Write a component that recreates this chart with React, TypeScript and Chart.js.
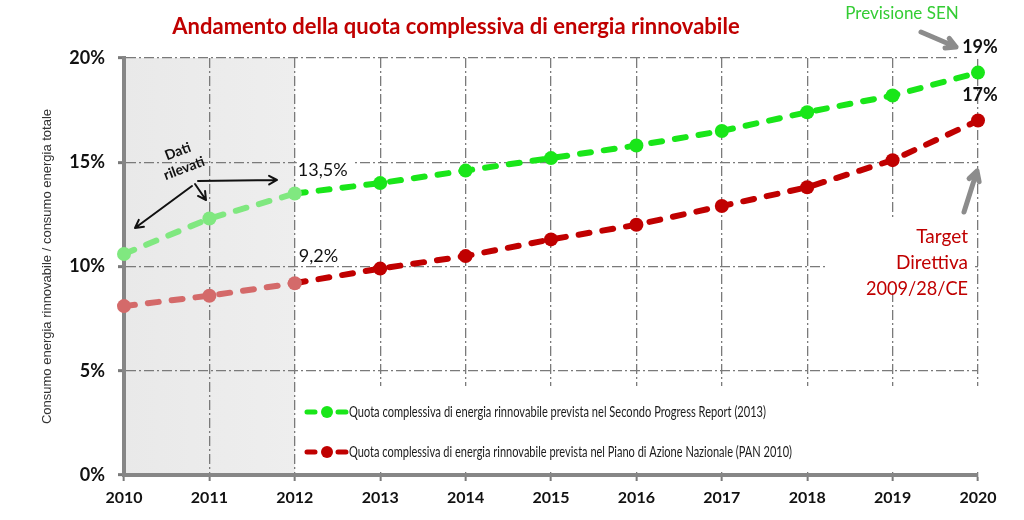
import React, { useEffect, useRef } from 'react';
import { Chart, registerables } from 'chart.js';

Chart.register(...registerables);

const years = ['2010', '2011', '2012', '2013', '2014', '2015', '2016', '2017', '2018', '2019', '2020'];
const senValues = [10.6, 12.3, 13.5, 14.0, 14.6, 15.2, 15.8, 16.5, 17.4, 18.2, 19.3];
const panValues = [8.1, 8.6, 9.2, 9.9, 10.5, 11.3, 12.0, 12.9, 13.8, 15.1, 17.0];
const observedUntil = 2; // index of last "dati rilevati" year
const titleText = 'Andamento della quota complessiva di energia rinnovabile';
const yAxisTitle = 'Consumo energia rinnovabile / consumo energia totale';
const legendLabels = [
  'Quota complessiva di energia rinnovabile prevista nel Secondo Progress Report (2013)',
  'Quota complessiva di energia rinnovabile prevista nel Piano di Azione Nazionale (PAN 2010)',
];
const senNote = 'Previsione SEN';
const senEndLabel = '19%';
const panEndLabel = '17%';
const sen2012Label = '13,5%';
const pan2012Label = '9,2%';
const targetLines = ['Target', 'Direttiva', '2009/28/CE'];
const observedLines = ['Dati', 'rilevati'];

const GREEN = '#19e619';
const GREEN_LIGHT = '#80e880';
const RED = '#c00000';
const RED_LIGHT = '#d46a6a';
const GRID = '#7a7a7a';
const FONT = 'Lato, "Open Sans", sans-serif';

function arrow(ctx: CanvasRenderingContext2D, x1: number, y1: number, x2: number, y2: number, color: string, width: number, head: number) {
  const a = Math.atan2(y2 - y1, x2 - x1);
  ctx.save();
  ctx.strokeStyle = color;
  ctx.lineWidth = width;
  ctx.lineCap = 'round';
  ctx.lineJoin = 'round';
  ctx.beginPath();
  ctx.moveTo(x1, y1);
  ctx.lineTo(x2, y2);
  ctx.moveTo(x2 - head * Math.cos(a - 0.5), y2 - head * Math.sin(a - 0.5));
  ctx.lineTo(x2, y2);
  ctx.lineTo(x2 - head * Math.cos(a + 0.5), y2 - head * Math.sin(a + 0.5));
  ctx.stroke();
  ctx.restore();
}

function text(ctx: CanvasRenderingContext2D, s: string, x: number, y: number, font: string, color: string, align: CanvasTextAlign, maxWidth?: number) {
  ctx.save();
  ctx.font = font;
  ctx.fillStyle = color;
  ctx.textAlign = align;
  ctx.textBaseline = 'middle';
  if (maxWidth) ctx.fillText(s, x, y, maxWidth);
  else ctx.fillText(s, x, y);
  ctx.restore();
}

const decorPlugin = {
  id: 'decor',
  beforeDraw(chart: any) {
    const { ctx, chartArea, scales } = chart;
    ctx.save();
    ctx.fillStyle = '#ffffff';
    ctx.fillRect(0, 0, chart.width, chart.height);
    const x0 = scales.x.getPixelForValue(0);
    const x1 = scales.x.getPixelForValue(observedUntil);
    const g = ctx.createLinearGradient(x0, 0, x1, 0);
    g.addColorStop(0, '#e9e9e9');
    g.addColorStop(1, '#eeeeee');
    ctx.fillStyle = g;
    ctx.fillRect(x0, chartArea.top, x1 - x0, chartArea.bottom - chartArea.top);
    ctx.restore();
  },
  beforeDatasetsDraw(chart: any) {
    const { ctx, scales } = chart;
    const xs = scales.x;
    const ys = scales.y;
    ctx.save();
    ctx.fillStyle = '#ffffff';
    // legend box
    ctx.fillRect(xs.getPixelForValue(observedUntil) + 2, 386, 710, 86);
    // target note box
    ctx.fillRect(826, 217, 149, 76);
    // label boxes
    ctx.fillRect(xs.getPixelForValue(observedUntil) + 2, ys.getPixelForValue(13.5) - 35, 58, 26);
    ctx.fillRect(957, 34, 50, 25);
    ctx.restore();
  },
  afterDraw(chart: any) {
    const { ctx, scales, chartArea } = chart;
    const xs = scales.x;
    const ys = scales.y;
    // title
    text(ctx, titleText, 456, 27, `bold 22px ${FONT}`, RED, 'center', 577);
    // y axis title
    ctx.save();
    ctx.translate(47, (chartArea.top + chartArea.bottom) / 2);
    ctx.rotate(-Math.PI / 2);
    text(ctx, yAxisTitle, 0, 0, '13px "Liberation Sans", Arial, sans-serif', '#333333', 'center', 350);
    ctx.restore();

    // value labels
    const x2012 = xs.getPixelForValue(observedUntil);
    const x2020 = xs.getPixelForValue(years.length - 1);
    text(ctx, sen2012Label, x2012 + 3, ys.getPixelForValue(13.5) - 23, `18px ${FONT}`, '#111111', 'left', 52);
    text(ctx, pan2012Label, x2012 + 4, ys.getPixelForValue(9.2) - 27, `18px ${FONT}`, '#111111', 'left', 43);
    text(ctx, senEndLabel, x2020 + 2, 47, `bold 18px ${FONT}`, '#111111', 'center', 37);
    text(ctx, panEndLabel, x2020 + 2, ys.getPixelForValue(17) - 25, `bold 18px ${FONT}`, '#111111', 'center', 37);

    // Previsione SEN
    text(ctx, senNote, 902, 14, `17px ${FONT}`, '#33cc33', 'center', 126);
    arrow(ctx, 921, 32, 956, 47, '#8c8c8c', 5, 11);

    // Target
    targetLines.forEach((l, i) => text(ctx, l, 968, 237 + i * 26, `19px ${FONT}`, RED, 'right', 102));
    arrow(ctx, 964, 212, 977, 171, '#8c8c8c', 5, 11);

    // Dati rilevati
    ctx.save();
    ctx.translate(181, 160);
    ctx.rotate(-0.36);
    observedLines.forEach((l, i) => text(ctx, l, 0, -9 + i * 18, `bold 14px ${FONT}`, '#111111', 'center'));
    ctx.restore();
    arrow(ctx, 198, 181, 277, 180, '#111111', 2, 9);
    arrow(ctx, 195, 184, 206, 200, '#111111', 2, 9);
    arrow(ctx, 192, 186, 135, 228, '#111111', 2, 9);

    // legend
    const items = [
      { color: GREEN, label: legendLabels[0], y: 412, w: 417 },
      { color: RED, label: legendLabels[1], y: 452, w: 443 },
    ];
    items.forEach((it) => {
      ctx.save();
      ctx.strokeStyle = it.color;
      ctx.lineWidth = 5;
      ctx.lineCap = 'round';
      ctx.beginPath();
      ctx.moveTo(307, it.y);
      ctx.lineTo(315, it.y);
      ctx.moveTo(338, it.y);
      ctx.lineTo(346, it.y);
      ctx.stroke();
      ctx.fillStyle = it.color;
      ctx.beginPath();
      ctx.arc(327, it.y, 6, 0, Math.PI * 2);
      ctx.fill();
      ctx.restore();
      text(ctx, it.label, 349, it.y, `15px ${FONT}`, '#1a1a1a', 'left', it.w);
    });
  },
};

function lineDataset(label: string, values: number[], color: string, light: string) {
  const pc = values.map((_, i) => (i <= observedUntil ? light : color));
  return {
    label,
    data: values,
    borderColor: color,
    backgroundColor: color,
    borderWidth: 6,
    borderDash: [11, 13],
    borderCapStyle: 'round' as const,
    pointRadius: 7,
    pointBackgroundColor: pc,
    pointBorderColor: pc,
    pointBorderWidth: 0,
    tension: 0,
    fill: false,
    segment: {
      borderColor: (c: any) => (c.p1DataIndex <= observedUntil ? light : color),
    },
  };
}

export default function App() {
  const ref = useRef<HTMLCanvasElement | null>(null);
  useEffect(() => {
    if (!ref.current) return;
    const chart = new Chart(ref.current, {
      type: 'line',
      data: {
        labels: years,
        datasets: [
          lineDataset(legendLabels[1], panValues, RED, RED_LIGHT),
          lineDataset(legendLabels[0], senValues, GREEN, GREEN_LIGHT),
        ],
      },
      options: {
        responsive: false,
        animation: false,
        layout: { padding: { top: 58, right: 46, left: 0, bottom: 0 } },
        plugins: { legend: { display: false }, title: { display: false }, tooltip: { enabled: false } },
        scales: {
          x: {
            offset: false,
            grid: { color: GRID, lineWidth: 1.3, tickLength: 6, tickColor: GRID, tickWidth: 2, tickBorderDash: [] } as any,
            border: { display: true, color: '#868686', width: 4, dash: [10, 3, 2, 3] },
            ticks: { color: '#111111', font: { family: FONT, size: 16, weight: 'bold' }, padding: 7, maxRotation: 0 },
            afterFit: (s: any) => { s.height = 45; },
          },
          y: {
            min: 0,
            max: 20,
            grid: { color: GRID, lineWidth: 1.3, tickLength: 6, tickColor: GRID, tickWidth: 3, tickBorderDash: [] } as any,
            border: { display: true, color: '#868686', width: 4, dash: [10, 3, 2, 3] },
            ticks: {
              stepSize: 5,
              color: '#111111',
              font: { family: FONT, size: 18, weight: 'bold' },
              padding: 13,
              callback: (v: any) => `${v}%`,
            },
            afterFit: (s: any) => { s.width = 124; },
          },
        },
      },
      plugins: [decorPlugin],
    } as any);
    return () => chart.destroy();
  }, []);
  return (
    <div style={{ position: 'absolute', left: 0, top: 0, width: 1024, height: 520 }}>
      <canvas ref={ref} width={1024} height={520} />
    </div>
  );
}
